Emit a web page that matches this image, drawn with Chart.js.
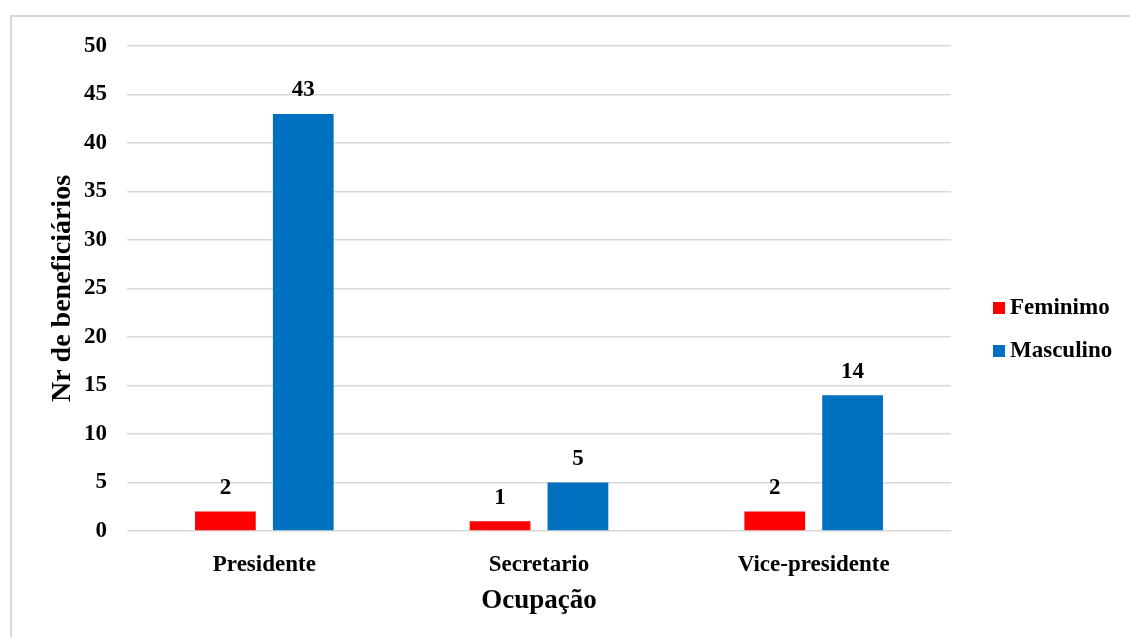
<!DOCTYPE html>
<html>
<head>
<meta charset="utf-8">
<script src="https://cdn.jsdelivr.net/npm/chart.js@4.4.1/dist/chart.umd.min.js"></script>
<style>
    html, body { margin: 0; padding: 0; background: #fff; overflow: hidden; width: 1130px; height: 637px; }
    #frame {
        position: absolute; left: 10px; top: 15px;
        width: 1120px; height: 622px;
        border-left: 2px solid #d9d9d9;
        border-top: 2px solid #d9d9d9;
    }
    #wrap { position: absolute; left: 0; top: 0; width: 1130px; height: 637px; }
</style>
</head>
<body>
<div id="frame"></div>
<div id="wrap"><canvas id="chart"></canvas></div>
<script>
// Chart data
const ocupacoes = ['Presidente', 'Secretario', 'Vice-presidente'];
const feminino = [2, 1, 2];
const masculino = [43, 5, 14];
const seriesNames = ['Feminimo', 'Masculino'];
const yTicks = [0, 5, 10, 15, 20, 25, 30, 35, 40, 45, 50];

const FONT = "'Liberation Serif', 'Times New Roman', serif";

// Value labels above each bar
const barLabels = {
    id: 'barLabels',
    afterDatasetsDraw(chart) {
        const ctx = chart.ctx;
        ctx.save();
        ctx.font = 'bold 23px ' + FONT;
        ctx.fillStyle = '#000';
        ctx.textAlign = 'center';
        ctx.textBaseline = 'bottom';
        chart.data.datasets.forEach((ds, i) => {
            chart.getDatasetMeta(i).data.forEach((bar, j) => {
                ctx.fillText(ds.data[j], bar.x, bar.y - 12);
            });
        });
        ctx.restore();
    }
};

// Legend on the right, drawn from the datasets
const sideLegend = {
    id: 'sideLegend',
    afterDraw(chart) {
        const ctx = chart.ctx;
        ctx.save();
        ctx.font = 'bold 23px ' + FONT;
        ctx.textBaseline = 'middle';
        chart.data.datasets.forEach((ds, i) => {
            const y = 308 + i * 43;
            ctx.fillStyle = ds.backgroundColor;
            ctx.fillRect(993, y - 6, 12, 12);
            ctx.fillStyle = '#000';
            ctx.fillText(ds.label, 1010, y);
        });
        ctx.restore();
    }
};

new Chart(document.getElementById('chart'), {
    type: 'bar',
    data: {
        labels: ocupacoes,
        datasets: [
            { label: seriesNames[0], data: feminino, backgroundColor: '#ff0000' },
            { label: seriesNames[1], data: masculino, backgroundColor: '#0070c0' }
        ]
    },
    options: {
        responsive: true,
        maintainAspectRatio: false,
        animation: false,
        datasets: {
            bar: { categoryPercentage: 0.567, barPercentage: 0.78 }
        },
        layout: { padding: { left: 38, right: 179, top: 46, bottom: 20 } },
        plugins: {
            legend: { display: false },
            tooltip: { enabled: false }
        },
        scales: {
            x: {
                grid: { display: false },
                border: { display: false },
                ticks: {
                    color: '#000',
                    padding: 12,
                    font: { family: FONT, size: 23, weight: 'bold' }
                },
                title: {
                    display: true,
                    text: 'Ocupação',
                    color: '#000',
                    padding: { top: 5, bottom: 0 },
                    font: { family: FONT, size: 27, weight: 'bold' }
                },
                afterFit(scale) { scale.height = 637 - 531 - 20; }
            },
            y: {
                min: 0,
                max: 50,
                afterBuildTicks(scale) { scale.ticks = yTicks.map(v => ({ value: v })); },
                grid: { color: '#d9d9d9', lineWidth: 1.5, drawTicks: false },
                border: { display: false },
                ticks: {
                    color: '#000',
                    padding: 20,
                    font: { family: FONT, size: 23, weight: 'bold' }
                },
                title: {
                    display: true,
                    text: 'Nr de beneficiários',
                    color: '#000',
                    padding: { top: 8, bottom: 6 },
                    font: { family: FONT, size: 28, weight: 'bold' }
                },
                afterFit(scale) { scale.width = 127 - 38; }
            }
        }
    },
    plugins: [barLabels, sideLegend]
});
</script>
</body>
</html>
